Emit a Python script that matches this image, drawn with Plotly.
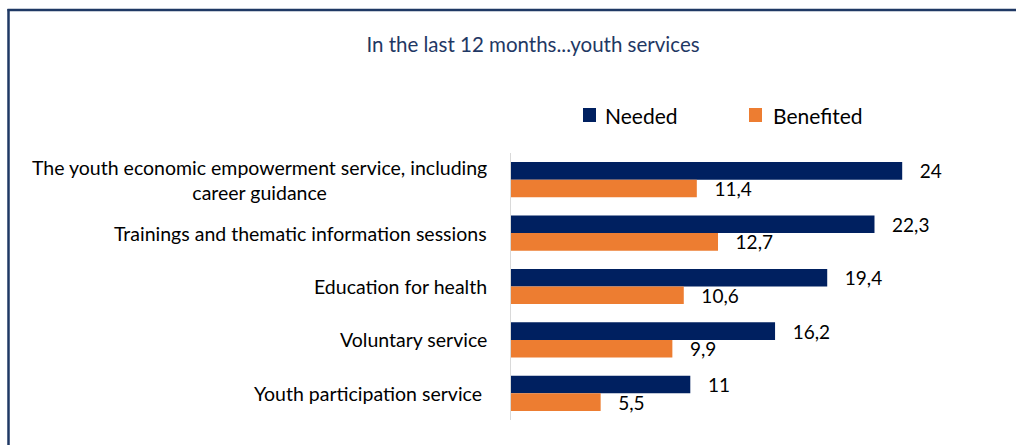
import plotly.graph_objects as go

categories = [
    "The youth economic empowerment service, including<br>career guidance",
    "Trainings and thematic information sessions",
    "Education for health",
    "Voluntary service",
    "Youth participation service ",
]
needed = [24, 22.3, 19.4, 16.2, 11]
benefited = [11.4, 12.7, 10.6, 9.9, 5.5]
series_names = ["Needed", "Benefited"]
title_text = "In the last 12 months...youth services"

NAVY = "#002060"
ORANGE = "#ED7D31"
BORDER = "#1F3864"
FONT = "Lato, 'Open Sans', sans-serif"
PAD = "\u00a0\u00a0\u00a0"

W, H = 1016, 445
PL, PR, PT, PB = 511, 1000, 153, 420  # plot area in pixels


def px_x(x):
    return (x - PL) / (PR - PL)


def px_y(y):
    return (PB - y) / (PB - PT)


def fmt(v):
    s = ("%g" % v).replace(".", ",")
    return PAD + s


cat_ids = list(range(len(categories)))

fig = go.Figure()
for name, vals, col in [(series_names[0], needed, NAVY), (series_names[1], benefited, ORANGE)]:
    fig.add_trace(go.Bar(
        y=cat_ids, x=vals, orientation="h", name=name,
        marker=dict(color=col, line=dict(width=0)),
        text=[fmt(v) for v in vals], textposition="outside",
        constraintext="none",
        textfont=dict(size=19, color="#000000", family=FONT),
        cliponaxis=False, showlegend=False,
    ))

annotations = []
for i, c in enumerate(categories):
    annotations.append(dict(
        x=0, xref="paper", y=i, yref="y", xanchor="right", yanchor="middle",
        xshift=-22, text=c, showarrow=False, align="center",
        font=dict(size=19.5, color="#000000", family=FONT),
    ))

# manual legend
shapes = []
legend_items = [(series_names[0], NAVY, 583, 603), (series_names[1], ORANGE, 749, 771)]
for name, col, sx, tx in legend_items:
    shapes.append(dict(type="rect", xref="paper", yref="paper",
                       x0=px_x(sx), x1=px_x(sx + 13), y0=px_y(122), y1=px_y(108),
                       fillcolor=col, line=dict(width=0)))
    annotations.append(dict(x=px_x(tx), xref="paper", y=px_y(115), yref="paper",
                            xanchor="left", yanchor="middle", text=name, showarrow=False,
                            font=dict(size=21, color="#000000", family=FONT)))

# outer border (top and left edges visible)
shapes.append(dict(type="line", xref="paper", yref="paper",
                   x0=px_x(7.5), x1=px_x(1016), y0=px_y(10), y1=px_y(10),
                   line=dict(color=BORDER, width=2.5), layer="below"))
shapes.append(dict(type="line", xref="paper", yref="paper",
                   x0=px_x(8.5), x1=px_x(8.5), y0=px_y(9), y1=px_y(445),
                   line=dict(color=BORDER, width=2.5), layer="below"))

fig.update_layout(
    width=W, height=H,
    margin=dict(l=PL, r=W - PR, t=PT, b=H - PB),
    paper_bgcolor="white", plot_bgcolor="white",
    barmode="group", bargap=0.34, bargroupgap=0,
    title=dict(text=title_text, x=533 / W, xanchor="center",
               y=1 - 45 / H, yanchor="middle",
               font=dict(size=20.5, color=BORDER, family=FONT)),
    showlegend=False,
    xaxis=dict(range=[0, 30], visible=False),
    yaxis=dict(autorange="reversed", showticklabels=False, showline=True,
               linecolor="#D9D9D9", linewidth=1, showgrid=False, zeroline=False,
               ticks=""),
    annotations=annotations,
    shapes=shapes,
)

fig.write_html(
    "out.html",
    config={"displayModeBar": False},
    post_script=("document.documentElement.style.overflow='hidden';"
                 "document.body.style.margin='0';document.body.style.overflow='hidden';"),
)
